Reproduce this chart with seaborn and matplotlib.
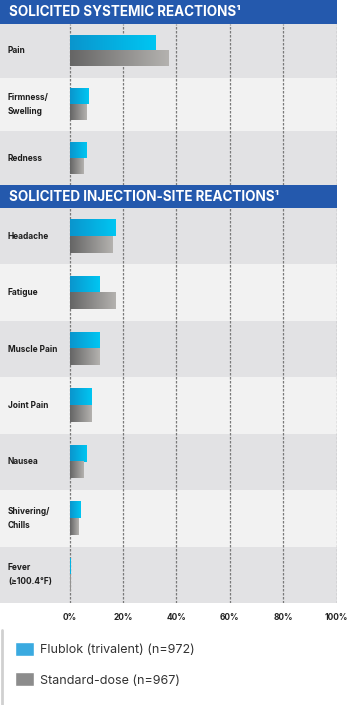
import matplotlib
matplotlib.use("Agg")
import numpy as np
import pandas as pd
import seaborn as sns
import matplotlib.pyplot as plt
from matplotlib.patches import Rectangle
from matplotlib.lines import Line2D
from matplotlib.colors import LinearSegmentedColormap

# ---------------- data ----------------
systemic_labels = ["Pain", "Firmness/\nSwelling", "Redness"]
flublok_systemic = [32, 7, 6]
standard_systemic = [37, 6, 5]

injection_labels = ["Headache", "Fatigue", "Muscle Pain", "Joint Pain",
                    "Nausea", "Shivering/\nChills", "Fever\n(≥100.4°F)"]
flublok_injection = [17, 11, 11, 8, 6, 4, 0.3]
standard_injection = [16, 17, 11, 8, 5, 3, 0.1]

series_names = ["Flublok (trivalent) (n=972)", "Standard-dose (n=967)"]
section_titles = ["SOLICITED SYSTEMIC REACTIONS\u00b9",
                  "SOLICITED INJECTION-SITE REACTIONS\u00b9"]
x_ticks = [0, 20, 40, 60, 80, 100]
x_ticklabels = ["0%", "20%", "40%", "60%", "80%", "100%"]

# ---------------- style ----------------
sns.set_theme(style="white")
plt.rcParams["font.family"] = ["Inter", "DejaVu Sans"]

W, H = 351, 705
fig = plt.figure(figsize=(W / 100, H / 100), dpi=100)
fig.patch.set_facecolor("white")

def fy(px):
    return 1 - px / H

X0, X100 = 69.5, 336.5
left_lim = -X0 / (X100 - X0) * 100
ax_w = X100 / W

DARK_ROW = "#e2e2e4"
LIGHT_ROW = "#f2f2f2"
HEADER = "#2459ad"
legend_palette = ["#3aaae0", "#8c8c8c"]
blue_cmap = LinearSegmentedColormap.from_list("b", ["#0a95cd", "#00c6f2"])
gray_cmap = LinearSegmentedColormap.from_list("g", ["#656565", "#b4b2af"])

def draw_section(ax, labels, flu, std, first_dark=True, show_legend=False):
    n = len(labels)
    df = pd.DataFrame({
        "reaction": labels * 2,
        "pct": flu + std,
        "group": [series_names[0]] * n + [series_names[1]] * n,
    })
    sns.barplot(data=df, y="reaction", x="pct", hue="group", orient="h",
                width=0.58, palette=legend_palette, saturation=1,
                errorbar=None, ax=ax, legend=show_legend, zorder=2)
    # gradient fill of each bar
    grad = np.linspace(0, 1, 256).reshape(1, -1)
    for container, cmap in zip(ax.containers, [blue_cmap, gray_cmap]):
        for p in container:
            x, y, w, h = p.get_x(), p.get_y(), p.get_width(), p.get_height()
            if w <= 0:
                continue
            ax.imshow(grad, cmap=cmap, aspect="auto",
                      extent=(x, x + w, y + h, y), zorder=2.5,
                      interpolation="bilinear")
            p.set_facecolor("none")
            p.set_edgecolor("none")
    for i in range(n):
        dark = (i % 2 == 0) if first_dark else (i % 2 == 1)
        ax.axhspan(i - 0.5, i + 0.5, xmin=0, xmax=1,
                   color=DARK_ROW if dark else LIGHT_ROW, zorder=0.1, lw=0)
    ax.set_xlim(left_lim, 100)
    ax.set_ylim(n - 0.5, -0.5)
    ax.set_xticks(x_ticks)
    ax.set_yticks([])
    ax.set_xlabel("")
    ax.set_ylabel("")
    ax.set_axisbelow(True)
    ax.grid(axis="x", color="#7a7a7a", lw=0.9, linestyle=(0, (2, 1.2)))
    ax.grid(axis="y", visible=False)
    for s in ax.spines.values():
        s.set_visible(False)
    for i, lab in enumerate(labels):
        ax.text(left_lim + 8 / (X100 - X0) * 100, i, lab, ha="left",
                va="center", fontsize=6, fontweight="bold", color="#1c1c1c",
                linespacing=1.75)

# section 1 axes
ax1 = fig.add_axes([0, fy(185), ax_w, (185 - 24) / H])
draw_section(ax1, systemic_labels, flublok_systemic, standard_systemic)
ax1.tick_params(axis="x", length=0, labelbottom=False)

# section 2 axes
ax2 = fig.add_axes([0, fy(603), ax_w, (603 - 208) / H])
draw_section(ax2, injection_labels, flublok_injection, standard_injection,
             show_legend=True)
ax2.set_xticklabels(x_ticklabels)
ax2.tick_params(axis="x", length=0, pad=7.5, labelsize=6, labelcolor="#222222")
for t in ax2.get_xticklabels():
    t.set_fontweight("bold")

# header bands
for (top, bot), title in zip([(0, 24), (185, 208)], section_titles):
    fig.add_artist(Rectangle((0, fy(bot)), 337 / W, (bot - top) / H,
                             transform=fig.transFigure, color=HEADER, lw=0,
                             zorder=5))
    fig.text(9 / W, fy((top + bot) / 2 + 0.5), title, color="white",
             fontsize=9.7, fontweight="bold", va="center", ha="left", zorder=6)

# legend
sns.move_legend(ax2, "upper left", bbox_to_anchor=(15 / W, fy(642)),
                bbox_transform=fig.transFigure, frameon=False, title=None,
                fontsize=9, handlelength=1.5, handleheight=1.35,
                handletextpad=0.5, labelspacing=1.3, borderpad=0,
                borderaxespad=0)
for t in ax2.get_legend().get_texts():
    t.set_color("#333333")

fig.add_artist(Line2D([2 / W, 2 / W], [fy(630), 0], transform=fig.transFigure,
                      color="#d0d0d0", lw=2))

fig.savefig("out.png", dpi=100)
